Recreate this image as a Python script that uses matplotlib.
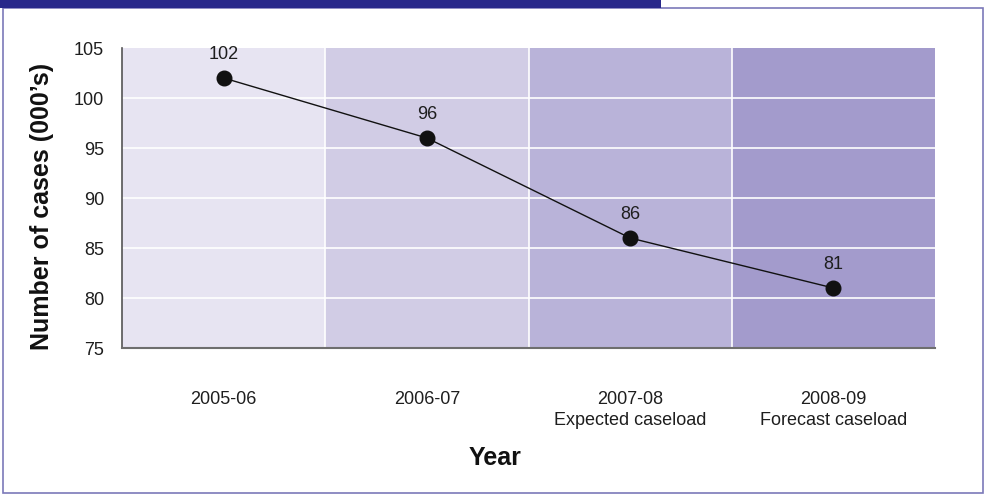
import matplotlib
matplotlib.use("Agg")
import matplotlib.pyplot as plt
from matplotlib.patches import Rectangle

plt.rcParams['font.family'] = ['Liberation Sans', 'DejaVu Sans']

years = ["2005-06", "2006-07", "2007-08", "2008-09"]
subtitles = ["", "", "Expected caseload", "Forecast caseload"]
cases = [102, 96, 86, 81]
band_colors = ["#e7e4f2", "#d1cce5", "#b9b3d9", "#a39bcc"]
y_ticks = [75, 80, 85, 90, 95, 100, 105]

W, H = 987, 494
fig = plt.figure(figsize=(W / 100, H / 100), dpi=100)
fig.patch.set_facecolor("white")

# frame and header strip
fig.patches.append(Rectangle((3 / W, 1 / H), 980 / W, (H - 9) / H,
                             transform=fig.transFigure, fill=False,
                             edgecolor="#7b79b9", linewidth=1.2, zorder=0))
fig.patches.append(Rectangle((0, (H - 8) / H), 661 / W, 8 / H,
                             transform=fig.transFigure, facecolor="#28288a",
                             edgecolor="none", zorder=1))

ax = fig.add_axes([122 / W, 1 - 348 / H, 813 / W, 300 / H])
n = len(years)
ax.set_xlim(0, n)
ax.set_ylim(75, 105)

for i, c in enumerate(band_colors):
    ax.axvspan(i, i + 1, color=c, zorder=0, lw=0)
for i in range(1, n):
    ax.axvline(i, color="white", lw=1.2, zorder=1)
for t in y_ticks[1:-1]:
    ax.axhline(t, color="white", lw=1.2, zorder=1)

xs = [i + 0.5 for i in range(n)]
ax.plot(xs, cases, color="#111111", lw=1.0, marker="o", markersize=10.5,
        markerfacecolor="#111111", markeredgecolor="#111111", zorder=3)
for x, v in zip(xs, cases):
    ax.annotate(str(v), (x, v), xytext=(0, 11), textcoords="offset points",
                ha="center", va="bottom", fontsize=13, color="#1e1e1e")

ax.set_yticks(y_ticks)
ax.set_yticklabels([str(t) for t in y_ticks], fontsize=13, color="#1e1e1e")
ax.tick_params(axis="y", length=0, pad=13)
ax.set_xticks([])

for s in ["top", "right"]:
    ax.spines[s].set_visible(False)
ax.spines["left"].set_color("#555555")
ax.spines["left"].set_linewidth(1.2)
ax.spines["bottom"].set_color("#6e6e6e")
ax.spines["bottom"].set_linewidth(1.5)

for x, yr, sub in zip(xs, years, subtitles):
    xf = (122 + x / n * 813) / W
    fig.text(xf, 1 - 399 / H, yr, ha="center", va="center", fontsize=13,
             color="#1e1e1e")
    if sub:
        fig.text(xf, 1 - 420 / H, sub, ha="center", va="center",
                 fontsize=13, color="#1e1e1e")

fig.text(495 / W, 1 - 458 / H, "Year", ha="center", va="center",
         fontsize=18, fontweight="bold", color="#111111")
fig.text(42 / W, 1 - 206 / H, "Number of cases (000\u2019s)", ha="center",
         va="center", rotation=90, fontsize=18, fontweight="bold",
         color="#111111")

fig.savefig("out.png", dpi=100)
